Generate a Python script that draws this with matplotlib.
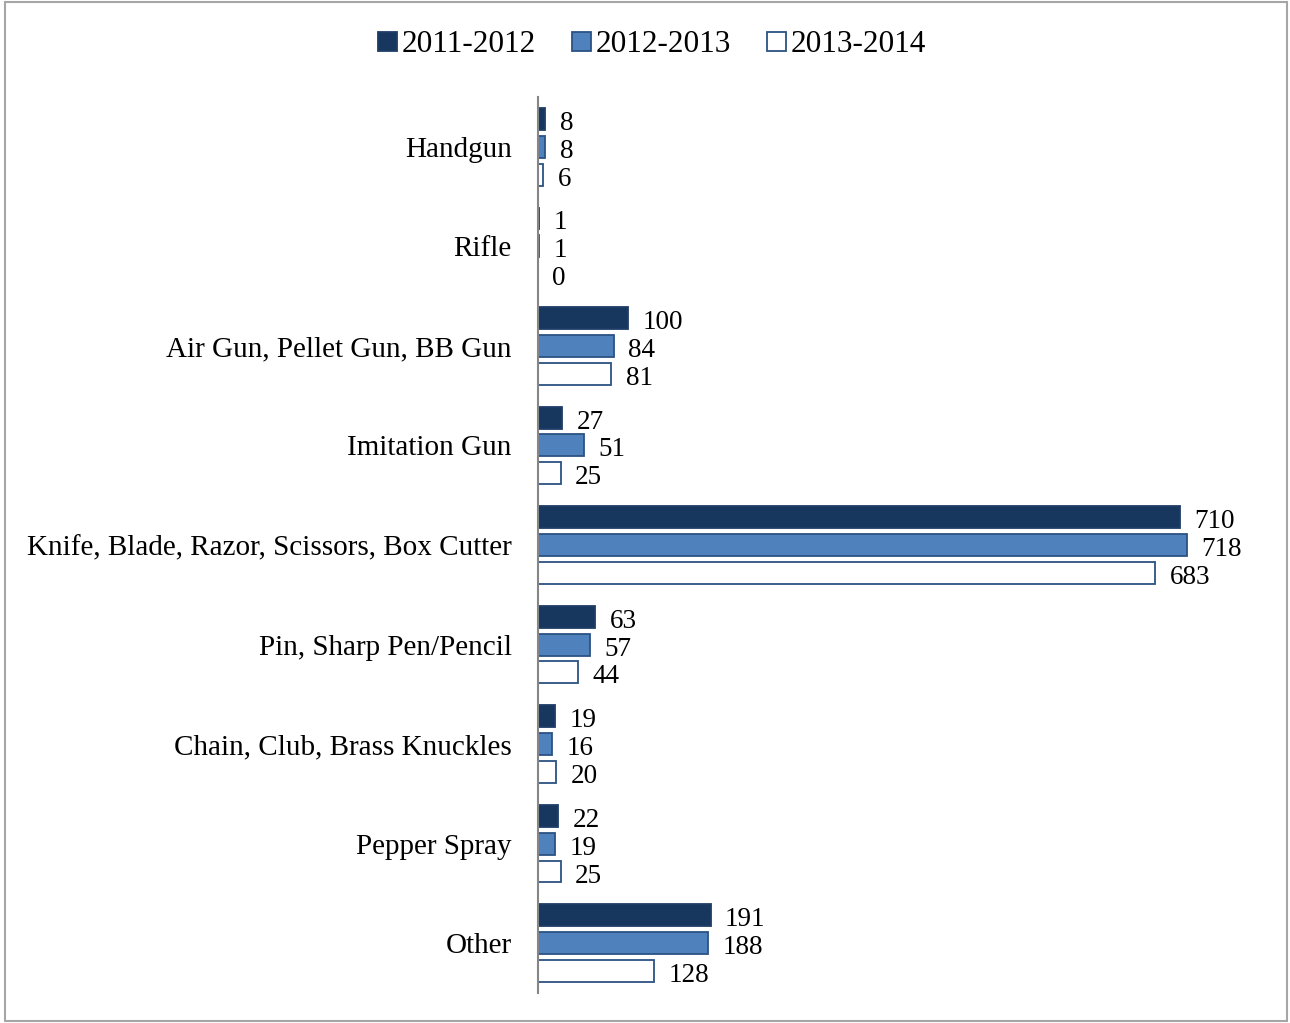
import matplotlib.pyplot as plt
import numpy as np
from matplotlib.patches import Rectangle

categories = ['Handgun', 'Rifle', 'Air Gun, Pellet Gun, BB Gun', 'Imitation Gun',
              'Knife, Blade, Razor, Scissors, Box Cutter', 'Pin, Sharp Pen/Pencil',
              'Chain, Club, Brass Knuckles', 'Pepper Spray', 'Other']
series_names = ['2011-2012', '2012-2013', '2013-2014']
y2011 = [8, 1, 100, 27, 710, 63, 19, 22, 191]
y2012 = [8, 1, 84, 51, 718, 57, 16, 19, 188]
y2013 = [6, 0, 81, 25, 683, 44, 20, 25, 128]

plt.rcParams['font.family'] = ['Liberation Serif', 'DejaVu Serif']

fill_colors = ['#17375E', '#4F81BD', '#FFFFFF']
edge_colors = ['#1F3D66', '#2C5283', '#2C5283']

fig = plt.figure(figsize=(12.9, 10.23), dpi=100)
W, H = 1290, 1023
ax = fig.add_axes([538 / W, 1 - 993 / H, (1250 - 538) / W, (993 - 97) / H])

n = len(categories)
pos = np.arange(n)
bar_h = 0.22
step = 0.28
for i, (vals, fc, ec, name) in enumerate(zip([y2011, y2012, y2013], fill_colors, edge_colors, series_names)):
    yy = pos + (i - 1) * step
    ax.barh(yy, vals, height=bar_h, color=fc, edgecolor=ec, linewidth=1.3, label=name)
    for y, v in zip(yy, vals):
        ax.text(v + 16, y + 0.045, str(v), va='center', ha='left', fontsize=19.5)

ax.set_xlim(0, 788)
ax.set_ylim(n - 0.5, -0.5)
ax.set_yticks(pos)
ax.set_yticklabels(categories, fontsize=21)
ax.tick_params(axis='y', length=0, pad=19)
ax.set_xticks([])
for s in ['top', 'right', 'bottom']:
    ax.spines[s].set_visible(False)
ax.spines['left'].set_color('#868686')
ax.spines['left'].set_linewidth(1.5)

leg = fig.legend(loc='center', bbox_to_anchor=(652 / W, 1 - 45 / H), ncol=3, frameon=False,
                 fontsize=22.5, handlelength=0.6, handleheight=0.6, handletextpad=0.15,
                 columnspacing=1.15)

# outer chart border
fig.patches.append(Rectangle((5 / W, 2 / H), (1287 - 5) / W, (1021 - 2) / H, transform=fig.transFigure,
                             fill=False, edgecolor='#A6A6A6', linewidth=1.5))

fig.savefig('out.png', dpi=100)
